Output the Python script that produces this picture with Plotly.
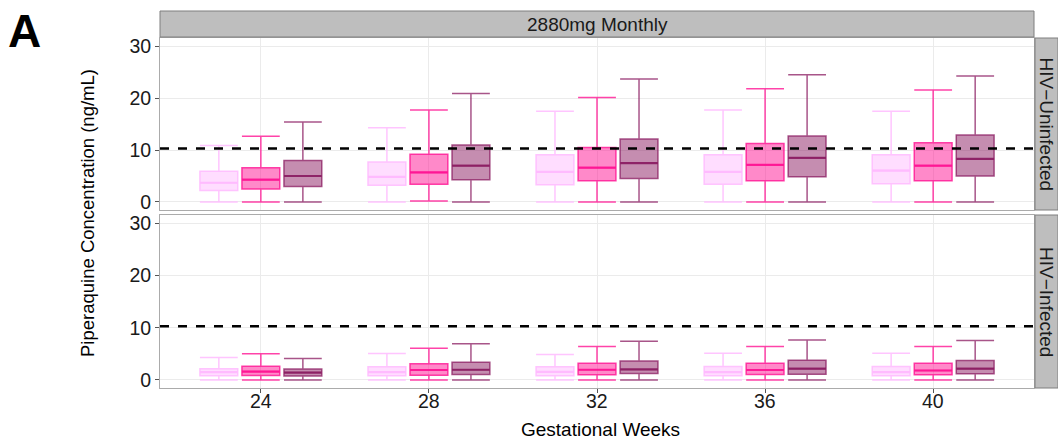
import plotly.graph_objects as go

# ---------------- data ----------------
WEEKS = ["24", "28", "32", "36", "40"]
GROUPS = ["Group 1", "Group 2", "Group 3"]
FACET_COL = "2880mg Monthly"
PANELS = ["HIV\u2212Uninfected", "HIV\u2212Infected"]
THRESHOLD = 10.3

# HIV-uninfected panel: rows = groups, cols = weeks
UNINF_LOW = [[0, 0, 0, 0, 0], [0, 0.2, 0, 0, 0], [0, 0, 0, 0, 0]]
UNINF_Q1 = [[2.2, 3.2, 3.3, 3.4, 3.5], [2.5, 3.4, 4.1, 4.1, 4.1], [3.0, 4.3, 4.5, 4.85, 5.0]]
UNINF_MED = [[3.7, 4.85, 5.8, 5.8, 6.05], [4.3, 5.7, 6.6, 7.15, 7.0], [5.0, 7.0, 7.5, 8.5, 8.3]]
UNINF_Q3 = [[5.9, 7.7, 9.1, 9.1, 9.1], [6.6, 9.2, 10.5, 11.25, 11.4], [8.0, 11.0, 12.15, 12.7, 12.9]]
UNINF_HIGH = [[10.9, 14.3, 17.5, 17.7, 17.5], [12.65, 17.7, 20.15, 21.8, 21.6], [15.4, 20.9, 23.7, 24.5, 24.3]]

# HIV-infected panel
INF_LOW = [[0, 0, 0, 0, 0], [0, 0, 0, 0, 0], [0, 0, 0, 0, 0]]
INF_Q1 = [[0.8, 0.8, 0.8, 0.8, 0.8], [0.85, 0.9, 1.0, 1.05, 1.0], [0.75, 1.05, 1.25, 1.1, 1.2]]
INF_MED = [[1.5, 1.5, 1.55, 1.5, 1.5], [1.6, 1.9, 1.95, 1.9, 1.8], [1.4, 1.95, 2.0, 2.15, 2.15]]
INF_Q3 = [[2.15, 2.5, 2.5, 2.55, 2.55], [2.6, 3.1, 3.2, 3.2, 3.2], [2.1, 3.4, 3.6, 3.75, 3.7]]
INF_HIGH = [[4.3, 5.05, 4.85, 5.1, 5.1], [5.0, 6.05, 6.4, 6.4, 6.4], [4.1, 6.95, 7.4, 7.65, 7.55]]

# ---------------- styling ----------------
LINE_COLORS = ["rgba(255,187,255,0.85)", "rgba(255,20,147,0.8)", "rgba(139,28,98,0.75)"]
MED_COLORS = ["rgba(255,187,255,1)", "rgba(255,20,147,0.9)", "rgba(139,28,98,0.85)"]
FILL_COLORS = ["rgba(255,187,255,0.5)", "rgba(255,20,147,0.5)", "rgba(139,28,98,0.5)"]
OFFSETS = [-0.25, 0.0, 0.25]
BOX_W = 0.225
FONT = "Liberation Sans, Arial, sans-serif"

W, H = 1058, 443
ML, MR, MT, MB = 160, 0, 11, 55
PW, PH = W - ML - MR, H - MT - MB


def px_x(x):
    return (x - ML) / PW


def px_y(y):
    return (H - MB - y) / PH


X_END = px_x(1034)
TOP_DOM = [px_y(210), px_y(38)]
BOT_DOM = [px_y(388), px_y(215)]
YRANGE = [-1.55, 31.6]
TICK_POS = [1, 2, 3, 4, 5]

fig = go.Figure()

panels = [
    ("x2", "y2", UNINF_LOW, UNINF_Q1, UNINF_MED, UNINF_Q3, UNINF_HIGH),
    ("x", "y", INF_LOW, INF_Q1, INF_MED, INF_Q3, INF_HIGH),
]
for xa, ya, lo, q1, med, q3, hi in panels:
    for g, name in enumerate(GROUPS):
        xs = [TICK_POS[i] + OFFSETS[g] for i in range(len(WEEKS))]
        fig.add_trace(go.Box(
            x=xs, q1=q1[g], median=med[g], q3=q3[g],
            lowerfence=lo[g], upperfence=hi[g],
            width=BOX_W, whiskerwidth=1,
            fillcolor=FILL_COLORS[g],
            line=dict(color=LINE_COLORS[g], width=1.5),
            boxpoints=False, name=name, showlegend=False,
            xaxis=xa, yaxis=ya,
        ))
        # thicker median line (ggplot "fatten")
        mx, my = [], []
        for x, m in zip(xs, med[g]):
            mx += [x - BOX_W / 2, x + BOX_W / 2, None]
            my += [m, m, None]
        fig.add_trace(go.Scatter(x=mx, y=my, mode="lines",
                                 line=dict(color=MED_COLORS[g], width=2.2),
                                 showlegend=False, hoverinfo="skip",
                                 xaxis=xa, yaxis=ya))
    fig.add_shape(type="line", xref=xa, yref=ya, x0=0.4, x1=5.6,
                  y0=THRESHOLD, y1=THRESHOLD,
                  line=dict(color="black", width=2.5, dash="9px,9px"), layer="above")

axis_common = dict(
    showline=True, mirror=True, linecolor="#ABABAB", linewidth=1,
    gridcolor="#EBEBEB", gridwidth=1, zeroline=False,
    ticklen=4, tickcolor="#555555",
    tickfont=dict(family=FONT, size=19.5, color="#1A1A1A"),
)

fig.update_layout(
    width=W, height=H,
    margin=dict(l=ML, r=MR, t=MT, b=MB),
    paper_bgcolor="white", plot_bgcolor="white",
    boxmode="overlay",
    font=dict(family=FONT),
    xaxis=dict(domain=[0, X_END], anchor="y", range=[0.4, 5.6], ticks="outside",
               tickvals=TICK_POS, showticklabels=False, **axis_common),
    xaxis2=dict(domain=[0, X_END], anchor="y2", range=[0.4, 5.6], matches="x",
                tickvals=TICK_POS, showticklabels=False,
                ticks="", **axis_common),
    yaxis=dict(domain=BOT_DOM, anchor="x", range=YRANGE, ticks="outside",
               tickvals=[0, 10, 20, 30], **axis_common),
    yaxis2=dict(domain=TOP_DOM, anchor="x2", range=YRANGE, ticks="outside",
                tickvals=[0, 10, 20, 30], **axis_common),
)

# x tick labels (placed close to the axis like ggplot)
for pos, wk in zip(TICK_POS, WEEKS):
    fig.add_annotation(xref="x", yref="paper", x=pos, y=px_y(401), text=wk,
                       showarrow=False, xanchor="center", yanchor="middle",
                       font=dict(family=FONT, size=19.5, color="#1A1A1A"))

# strips
STRIP_FILL = "#BEBEBE"
STRIP_LINE = "#7F7F7F"
strip_y0 = px_y(37)
fig.add_shape(type="rect", xref="paper", yref="paper", x0=0, x1=X_END,
              y0=strip_y0, y1=1.0, fillcolor=STRIP_FILL,
              line=dict(color=STRIP_LINE, width=1))
fig.add_annotation(xref="paper", yref="paper", x=X_END / 2, y=(strip_y0 + 1.0) / 2,
                   text=FACET_COL, showarrow=False, yanchor="middle",
                   font=dict(family=FONT, size=19, color="#1A1A1A"))

sx0 = px_x(1035)
for dom, label in [(TOP_DOM, PANELS[0]), (BOT_DOM, PANELS[1])]:
    fig.add_shape(type="rect", xref="paper", yref="paper", x0=sx0, x1=1.0,
                  y0=dom[0], y1=dom[1], fillcolor=STRIP_FILL,
                  line=dict(color=STRIP_LINE, width=1))
    fig.add_annotation(xref="paper", yref="paper", x=(sx0 + 1.0) / 2,
                       y=(dom[0] + dom[1]) / 2, text=label, textangle=90,
                       showarrow=False, xanchor="center", yanchor="middle",
                       font=dict(family=FONT, size=19, color="#1A1A1A"))

# axis titles
fig.add_annotation(xref="paper", yref="paper", x=px_x(600), y=px_y(429),
                   text="Gestational Weeks", showarrow=False,
                   xanchor="center", yanchor="middle",
                   font=dict(family=FONT, size=19, color="black"))
fig.add_annotation(xref="paper", yref="paper", x=px_x(88), y=px_y(213),
                   text="Piperaquine Concentration (ng/mL)", showarrow=False,
                   textangle=-90, xanchor="center", yanchor="middle",
                   font=dict(family=FONT, size=18.5, color="black"))
# panel tag
fig.add_annotation(xref="paper", yref="paper", x=px_x(6), y=px_y(31),
                   text="<b>A</b>", showarrow=False,
                   xanchor="left", yanchor="middle",
                   font=dict(family=FONT, size=46, color="black"))

fig.write_html("out.html")
